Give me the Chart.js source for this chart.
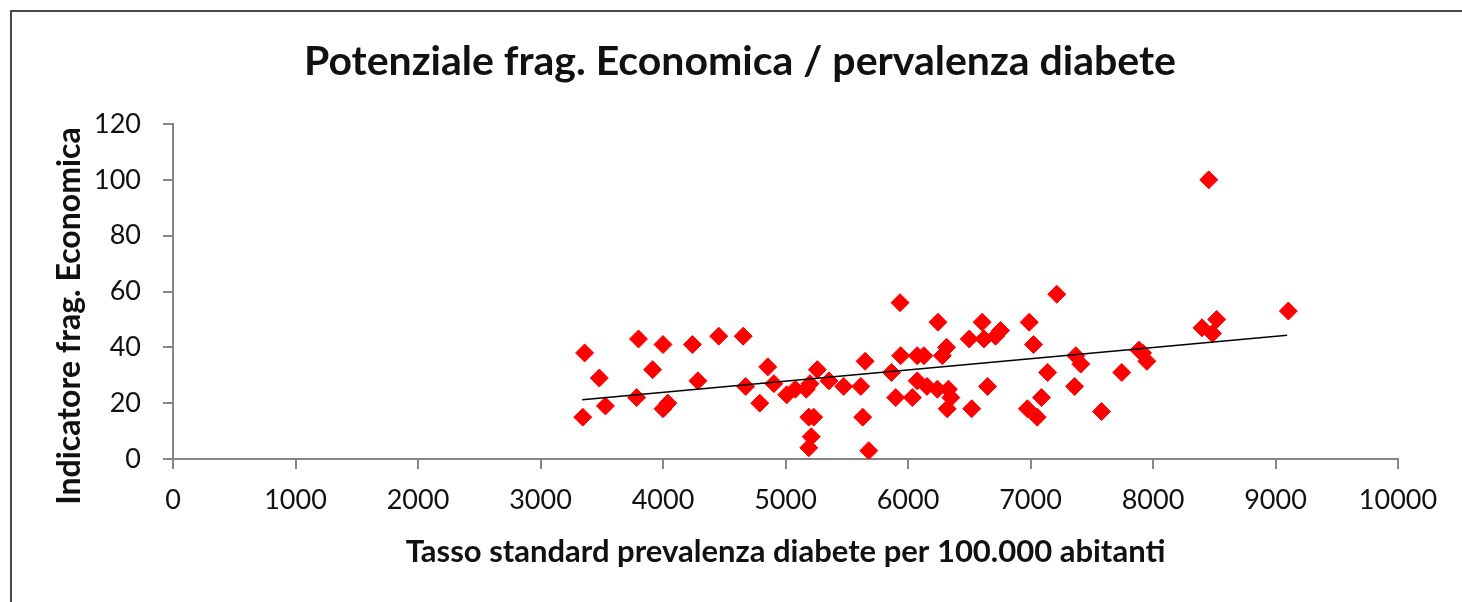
<!DOCTYPE html>
<html>
<head>
<meta charset="utf-8">
<script src="https://cdn.jsdelivr.net/npm/chart.js@4"></script>
<style>
  html, body { margin: 0; padding: 0; background: #fff; overflow: hidden; }
  #wrap { position: relative; width: 1462px; height: 602px; }
  #frame { position: absolute; left: 10px; top: 10px; width: 1480px; height: 640px; border: 2px solid #4a4a4a; box-sizing: border-box; }
  canvas { position: absolute; left: 0; top: 0; }
</style>
</head>
<body>
<div id="wrap">
  <div id="frame"></div>
  <canvas id="chart" width="1462" height="602"></canvas>
</div>
<script>
const chartTitle = 'Potenziale frag. Economica / pervalenza diabete';
const xTitle = 'Tasso standard prevalenza diabete per 100.000 abitanti';
const yTitle = 'Indicatore frag. Economica';

// diabetes prevalence (x) and economic fragility indicator (y)
const prevalenza = [3360, 3345, 3480, 3530, 3800, 3785, 3915, 4000, 4000, 4040,
  4240, 4285, 4455, 4655, 4675, 4790, 4855, 4905, 5010, 5080,
  5170, 5200, 5260, 5190, 5230, 5210, 5190, 5355, 5475, 5615,
  5650, 5630, 5680, 5935, 5940, 5865, 5900, 6035, 6075, 6130,
  6075, 6155, 6240, 6330, 6350, 6320, 6245, 6315, 6280, 6500,
  6605, 6620, 6715, 6755, 6650, 6520, 6990, 7025, 7215, 7140,
  7090, 6975, 7055, 7370, 7410, 7360, 7580, 7745, 7885, 7915,
  7950, 8400, 8485, 8520, 8455, 9105];
const fragilita = [38, 15, 29, 19, 43, 22, 32, 41, 18, 20,
  41, 28, 44, 44, 26, 20, 33, 27, 23, 25,
  25, 27, 32, 15, 15, 8, 4, 28, 26, 26,
  35, 15, 3, 56, 37, 31, 22, 22, 37, 37,
  28, 26, 25, 25, 22, 18, 49, 40, 37, 43,
  49, 43, 44, 46, 26, 18, 49, 41, 59, 31,
  22, 18, 15, 37, 34, 26, 17, 31, 39, 38,
  35, 47, 45, 50, 100, 53];

// trend line end points as drawn in the picture
const trendX = [3340, 9095];
const trendY = [21.2, 44.3];

const xTicks = [0, 1000, 2000, 3000, 4000, 5000, 6000, 7000, 8000, 9000, 10000];
const yTicks = [0, 20, 40, 60, 80, 100, 120];

const axisColor = '#868686';
const textColor = '#111';
const fontFamily = 'Lato, "Open Sans", sans-serif';

// chart title and y title drawn at fixed spots (the y title sits lower than the plot centre)
const titlePlugin = {
  id: 'fixedTitle',
  afterDraw(chart) {
    const ctx = chart.ctx;
    ctx.save();
    ctx.fillStyle = textColor;
    ctx.textAlign = 'center';
    ctx.textBaseline = 'middle';
    ctx.font = 'bold 41px ' + fontFamily;
    ctx.fillText(chartTitle, 740, 62);
    ctx.translate(70, 316);
    ctx.rotate(-Math.PI / 2);
    ctx.font = 'bold 32px ' + fontFamily;
    ctx.fillText(yTitle, 0, 0);
    ctx.restore();
  }
};

new Chart(document.getElementById('chart').getContext('2d'), {
  type: 'scatter',
  data: {
    datasets: [
      {
        label: 'dati',
        data: prevalenza.map((x, i) => ({ x: x, y: fragilita[i] })),
        pointStyle: 'rectRot',
        pointRadius: 9,
        pointHoverRadius: 9,
        backgroundColor: '#ff0000',
        borderColor: '#ff0000',
        borderWidth: 1,
        order: 2
      },
      {
        type: 'line',
        label: 'trend',
        data: trendX.map((x, i) => ({ x: x, y: trendY[i] })),
        borderColor: '#000',
        borderWidth: 1.5,
        pointRadius: 0,
        fill: false,
        order: 1
      }
    ]
  },
  options: {
    responsive: false,
    animation: false,
    events: [],
    layout: { padding: { left: 10, right: 64, top: 124, bottom: 0 } },
    plugins: {
      legend: { display: false },
      tooltip: { enabled: false }
    },
    scales: {
      x: {
        type: 'linear',
        min: 0,
        max: 10000,
        afterBuildTicks: s => { s.ticks = xTicks.map(v => ({ value: v })); },
        afterFit: s => { s.height = 143; },
        grid: { display: true, drawOnChartArea: false, drawTicks: true, tickLength: 10, color: axisColor, lineWidth: 2 },
        border: { display: true, color: axisColor, width: 2 },
        ticks: { color: textColor, font: { family: fontFamily, size: 27 }, padding: 15, maxRotation: 0, callback: v => String(v) },
        title: { display: true, text: xTitle, color: textColor, font: { family: fontFamily, size: 31, weight: 'bold' }, padding: { top: 0, bottom: 31 } }
      },
      y: {
        type: 'linear',
        min: 0,
        max: 120,
        afterBuildTicks: s => { s.ticks = yTicks.map(v => ({ value: v })); },
        afterFit: s => { s.width = 163; },
        grid: { display: true, drawOnChartArea: false, drawTicks: true, tickLength: 10, color: axisColor, lineWidth: 2 },
        border: { display: true, color: axisColor, width: 2 },
        ticks: { color: textColor, font: { family: fontFamily, size: 27 }, padding: 22, callback: v => String(v) },
        title: { display: false }
      }
    }
  },
  plugins: [titlePlugin]
});
</script>
</body>
</html>
